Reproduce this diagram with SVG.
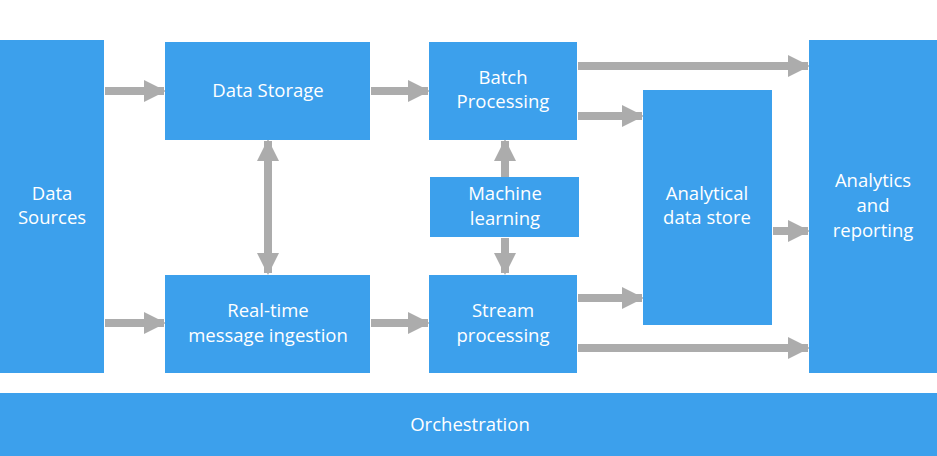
<svg xmlns="http://www.w3.org/2000/svg" width="937" height="456" viewBox="0 0 937 456">
<defs>
<style>
.n{fill:#3ca0ec}
.t{fill:#fff;font-family:"Open Sans",sans-serif;font-size:18.5px;text-anchor:middle}
.c{stroke:#acacac;stroke-width:8;fill:none}
</style>
<marker id="a" markerUnits="userSpaceOnUse" markerWidth="22" markerHeight="22" refX="20" refY="11" orient="auto-start-reverse" viewBox="0 0 22 22"><path d="M0,0L22,11L0,22z" fill="#acacac"/></marker>
</defs>
<rect width="937" height="456" fill="#fff"/>
<g id="connectors">
<path class="c" marker-end="url(#a)" d="M105,91H164"/>
<path class="c" marker-end="url(#a)" d="M371,91H428"/>
<path class="c" marker-end="url(#a)" d="M105,323H164"/>
<path class="c" marker-end="url(#a)" d="M371,323H428"/>
<path class="c" marker-start="url(#a)" marker-end="url(#a)" d="M268,141V273"/>
<path class="c" marker-end="url(#a)" d="M505,177V141"/>
<path class="c" marker-end="url(#a)" d="M505,238V273"/>
<path class="c" marker-end="url(#a)" d="M578,66H808"/>
<path class="c" marker-end="url(#a)" d="M578,116H642"/>
<path class="c" marker-end="url(#a)" d="M578,298H642"/>
<path class="c" marker-end="url(#a)" d="M578,348H808"/>
<path class="c" marker-end="url(#a)" d="M773,231H808"/>
</g>
<g id="ds"><rect class="n" x="0" y="40" width="104" height="333"/><text class="t" x="52" y="200">Data</text><text class="t" x="52" y="224">Sources</text></g>
<g id="storage"><rect class="n" x="165" y="42" width="205" height="98"/><text class="t" x="268" y="97">Data Storage</text></g>
<g id="batch"><rect class="n" x="429" y="42" width="148" height="98"/><text class="t" x="503" y="84">Batch</text><text class="t" x="503" y="108">Processing</text></g>
<g id="ml"><rect class="n" x="430" y="177" width="149" height="60"/><text class="t" x="505" y="200">Machine</text><text class="t" x="505" y="225">learning</text></g>
<g id="rt"><rect class="n" x="165" y="275" width="205" height="98"/><text class="t" x="268" y="317">Real-time</text><text class="t" x="268" y="342">message ingestion</text></g>
<g id="stream"><rect class="n" x="429" y="275" width="148" height="98"/><text class="t" x="503" y="317">Stream</text><text class="t" x="503" y="342">processing</text></g>
<g id="ads"><rect class="n" x="643" y="90" width="129" height="235"/><text class="t" x="707" y="200">Analytical</text><text class="t" x="707" y="224">data store</text></g>
<g id="ar"><rect class="n" x="809" y="40" width="128" height="333"/><text class="t" x="873" y="187">Analytics</text><text class="t" x="873" y="212">and</text><text class="t" x="873" y="237">reporting</text></g>
<g id="orch"><rect class="n" x="0" y="393" width="937" height="63"/><text class="t" x="470" y="431">Orchestration</text></g>
</svg>
